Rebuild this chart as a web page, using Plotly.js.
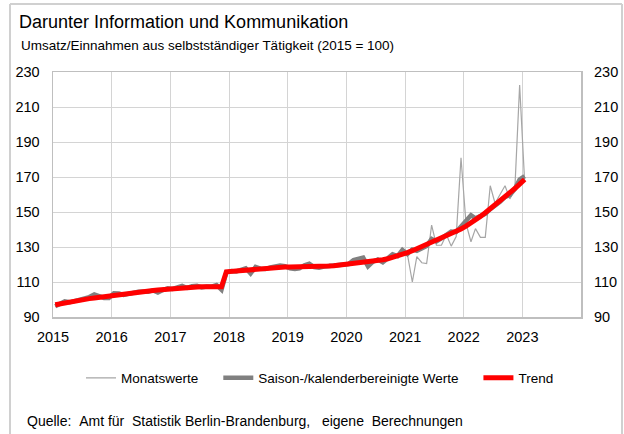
<!DOCTYPE html>
<html>
<head>
<meta charset="utf-8">
<script src="https://cdn.plot.ly/plotly-3.0.1.min.js"></script>
<style>html,body{margin:0;padding:0;background:#fff;}#chart{width:624px;height:434px;}</style>
</head>
<body>
<div id="chart"></div>
<script>
// monthly periods Jan 2015 .. Jan 2023
const startYear = 2015;
const nMonths = 97;
const yearTicks = ['2015','2016','2017','2018','2019','2020','2021','2022','2023'];

const trendValues = [
  97.0, 97.6, 98.2, 98.8, 99.3, 99.7, 100.1, 100.5, 100.9, 101.3, 101.7, 102.1,
  102.5, 102.9, 103.3, 103.6, 103.9, 104.2, 104.5, 104.8, 105.1, 105.4, 105.7, 106.0,
  106.3, 106.6, 106.8, 107.0, 107.1, 107.2, 107.3, 107.3, 107.3, 107.3, 107.3, 115.8,
  116.1, 116.3, 116.6, 116.9, 117.1, 117.4, 117.7, 117.9, 118.1, 118.3, 118.5, 118.6,
  118.6, 118.6, 118.5, 118.5, 118.5, 118.6, 118.7, 118.9, 119.1, 119.3, 119.6, 119.9,
  120.2, 120.5, 120.8, 121.1, 121.4, 121.8, 122.2, 122.7, 123.3, 124.0, 124.8, 125.8,
  126.8, 127.9, 129.0, 130.1, 131.2, 132.4, 133.6, 134.8, 136.1, 137.4, 138.8, 140.3,
  141.9, 143.6, 145.5, 147.5, 149.6, 151.8, 154.0, 156.3, 158.6, 161.0, 163.4, 165.9,
  168.6
];

const saValues = [
  96.2, 97.4, 98.9, 98.4, 99.0, 99.6, 100.3, 101.4, 102.9, 101.6, 100.9, 100.9,
  103.6, 103.4, 102.6, 103.2, 104.0, 104.4, 104.6, 104.4, 105.2, 104.0, 105.4, 106.4,
  106.0, 107.0, 107.8, 106.6, 107.6, 107.8, 106.9, 107.4, 107.3, 108.3, 105.6, 115.3,
  116.3, 116.0, 116.9, 117.8, 114.8, 118.6, 117.6, 117.4, 118.3, 119.0, 119.4, 119.1,
  117.8, 117.4, 117.8, 119.6, 120.4, 118.5, 118.2, 118.8, 119.2, 119.0, 119.5, 120.0,
  120.3, 122.6, 123.3, 123.9, 118.9, 121.6, 122.8, 121.3, 123.6, 125.8, 124.8, 128.3,
  126.0, 128.6, 127.8, 129.4, 130.6, 134.6, 133.2, 134.9, 136.8, 138.8, 138.6, 141.8,
  145.0, 148.2, 146.4, 147.6, 149.0, 151.6, 153.4, 155.8, 158.6, 159.6, 163.2, 168.5,
  170.5
];

// Monatswerte shown from Dec 2020 onwards
const monthlyStartIndex = 71;
const monthlyValues = [
  128.3,
  126.0, 110.0, 124.5, 121.0, 120.5, 142.5, 131.0, 131.0, 137.0, 130.5, 136.0, 181.0,
  143.5, 133.0, 140.5, 135.5, 135.5, 165.0, 155.0, 160.0, 165.0, 157.5, 163.0, 222.5,
  167.5
];

const seriesNames = ['Monatswerte', 'Saison-/kalenderbereinigte Werte', 'Trend'];

const months = [];
for (let i = 0; i < nMonths; i++) {
  const y = startYear + Math.floor(i / 12);
  const m = (i % 12) + 1;
  months.push(y + '-' + String(m).padStart(2, '0') + '-15');
}
const monthlyX = months.slice(monthlyStartIndex, monthlyStartIndex + monthlyValues.length);

const NB = '\u00a0';
const font = 'Liberation Sans, Arial, sans-serif';

const traces = [
  {x: monthlyX, y: monthlyValues, type: 'scatter', mode: 'lines', name: seriesNames[0] + NB.repeat(4),
   line: {color: '#a6a6a6', width: 1.2}},
  {x: months, y: saValues, type: 'scatter', mode: 'lines', name: seriesNames[1] + NB.repeat(4),
   line: {color: '#808080', width: 4.5}},
  {x: months, y: trendValues, type: 'scatter', mode: 'lines', name: seriesNames[2],
   line: {color: '#ff0000', width: 5}}
];

const L = 53, R = 43, T = 72, B = 117;
const W = 624 - L - R, H = 434 - T - B;
const px = v => (v - L) / W;
const py = v => (434 - B - v) / H;

const layout = {
  width: 624, height: 434,
  margin: {l: L, r: R, t: T, b: B, pad: 0},
  paper_bgcolor: '#ffffff', plot_bgcolor: '#ffffff',
  font: {family: font, size: 14, color: '#000000'},
  title: {text: 'Darunter Information und Kommunikation', font: {family: font, size: 18, color: '#000'},
          xref: 'container', yref: 'container', x: 19/624, xanchor: 'left', y: 1 - 22/434, yanchor: 'middle'},
  xaxis: {type: 'date', range: ['2015-01-01', '2024-01-01'], tickmode: 'array',
          tickvals: yearTicks.map(t => t + '-01-01'), ticktext: yearTicks,
          showgrid: true, gridcolor: '#d4d4d4', gridwidth: 1,
          showline: true, linecolor: '#bfbfbf', linewidth: 1.5, mirror: true,
          ticks: '', ticklabelstandoff: 6, zeroline: false, tickfont: {size: 14.5}},
  yaxis: {range: [90, 230], dtick: 20, tick0: 90, showgrid: true, gridcolor: '#d4d4d4', gridwidth: 1,
          showline: true, linecolor: '#bfbfbf', linewidth: 1.5, mirror: true,
          ticks: '', ticklabelstandoff: 9, zeroline: false, tickfont: {size: 14.5}},
  yaxis2: {range: [90, 230], dtick: 20, tick0: 90, overlaying: 'y', side: 'right', showgrid: false,
           showline: false, zeroline: false, ticks: '', ticklabelstandoff: 12, tickfont: {size: 14.5}},
  showlegend: true,
  legend: {orientation: 'h', x: px(81), xanchor: 'left', y: py(378), yanchor: 'middle',
           font: {family: font, size: 13.5, color: '#000'}, bgcolor: 'rgba(0,0,0,0)', traceorder: 'normal'},
  annotations: [
    {text: 'Umsatz/Einnahmen aus selbstständiger Tätigkeit (2015 = 100)', xref: 'paper', yref: 'paper',
     x: px(19), y: py(45), xanchor: 'left', yanchor: 'middle', showarrow: false,
     font: {family: font, size: 13.5, color: '#000'}},
    {text: 'Quelle:' + NB + NB + 'Amt für' + NB + NB + 'Statistik Berlin-Brandenburg,' + NB + NB + NB + 'eigene' + NB + NB + 'Berechnungen',
     xref: 'paper', yref: 'paper', x: px(25), y: py(421), xanchor: 'left', yanchor: 'middle', showarrow: false,
     font: {family: font, size: 14, color: '#000'}}
  ],
  shapes: [
    {type: 'line', xref: 'paper', yref: 'paper', x0: px(10), x1: px(10), y0: py(4), y1: py(440),
     line: {color: '#d0d0d0', width: 2}},
    {type: 'line', xref: 'paper', yref: 'paper', x0: px(10), x1: px(622), y0: py(4), y1: py(4),
     line: {color: '#d0d0d0', width: 2}},
    {type: 'line', xref: 'paper', yref: 'paper', x0: px(622), x1: px(622), y0: py(4), y1: py(440),
     line: {color: '#d0d0d0', width: 2}}
  ]
};

// invisible trace to bind the right-hand axis
traces.push({x: [months[0]], y: [null], yaxis: 'y2', showlegend: false, hoverinfo: 'skip', type: 'scatter', mode: 'lines'});

Plotly.newPlot('chart', traces, layout, {staticPlot: true, displayModeBar: false});
</script>
</body>
</html>
